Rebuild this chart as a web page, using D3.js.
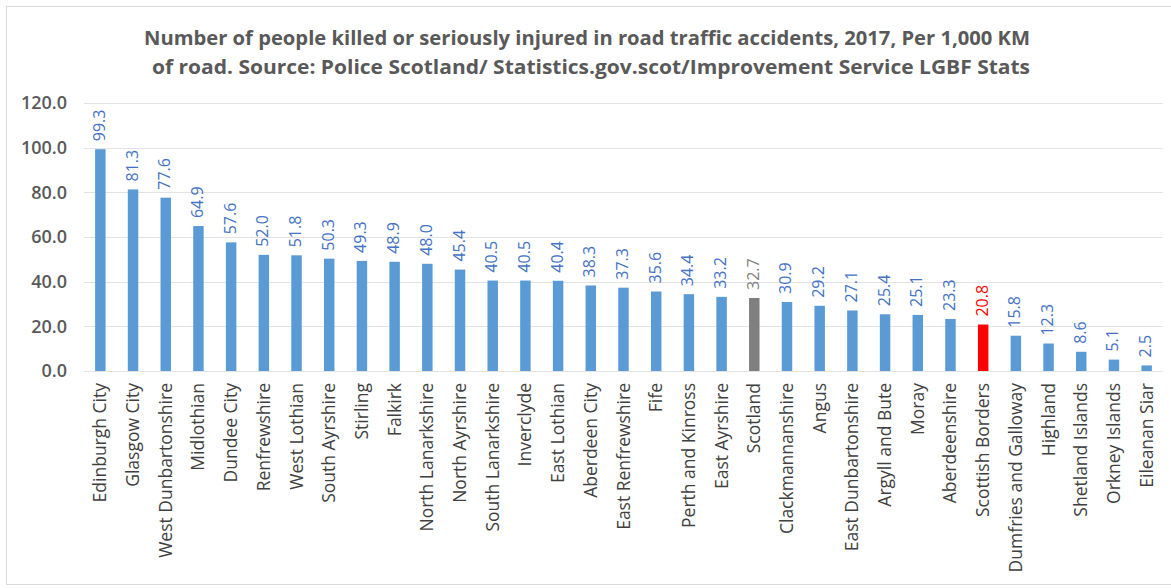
<!DOCTYPE html>
<html>
<head>
<meta charset="utf-8">
<script src="https://cdn.jsdelivr.net/npm/d3@7"></script>
<style>
  html, body { margin: 0; padding: 0; background: #ffffff; }
  svg { display: block; }
</style>
</head>
<body>
<svg id="chart" width="1171" height="588"></svg>
<script>
const categories = ["Edinburgh City","Glasgow City","West Dunbartonshire","Midlothian","Dundee City","Renfrewshire","West Lothian","South Ayrshire","Stirling","Falkirk","North Lanarkshire","North Ayrshire","South Lanarkshire","Inverclyde","East Lothian","Aberdeen City","East Renfrewshire","Fife","Perth and Kinross","East Ayrshire","Scotland","Clackmannanshire","Angus","East Dunbartonshire","Argyll and Bute","Moray","Aberdeenshire","Scottish Borders","Dumfries and Galloway","Highland","Shetland Islands","Orkney Islands","Eileanan Siar"];
const values = [99.3,81.3,77.6,64.9,57.6,52.0,51.8,50.3,49.3,48.9,48.0,45.4,40.5,40.5,40.4,38.3,37.3,35.6,34.4,33.2,32.7,30.9,29.2,27.1,25.4,25.1,23.3,20.8,15.8,12.3,8.6,5.1,2.5];
const yTicks = [0,20,40,60,80,100,120];
const titleLines = ["Number of people killed or seriously injured in road traffic accidents, 2017, Per 1,000 KM","of road.  Source: Police Scotland/ Statistics.gov.scot/Improvement Service LGBF Stats"];

(function () {
const svg = d3.select("#chart");
const W = 1171, H = 588;
const FONT = "'Open Sans', 'Liberation Sans', sans-serif";

// chart border
svg.append("rect").attr("x", 6.5).attr("y", 6.5).attr("width", W + 10).attr("height", 578)
  .attr("fill", "#fff").attr("stroke", "#d9d9d9").attr("stroke-width", 1);

const pl = 84, pr = 1163, pt = 103, pb = 371;
const x = d3.scaleBand().domain(categories).range([pl, pr]).paddingInner(0.68).paddingOuter(0.34);
const y = d3.scaleLinear().domain([0, 120]).range([pb, pt]);

// gridlines
svg.append("g").selectAll("line").data(yTicks).join("line")
  .attr("x1", pl).attr("x2", pr)
  .attr("y1", d => Math.round(y(d)) + 0.5).attr("y2", d => Math.round(y(d)) + 0.5)
  .attr("stroke", "#e3e3e3").attr("stroke-width", 1);

// y axis
const yAxis = svg.append("g").attr("transform", `translate(${pl},0)`)
  .call(d3.axisLeft(y).tickValues(yTicks).tickFormat(d3.format(".1f")).tickSize(0).tickPadding(17));
yAxis.select(".domain").remove();
yAxis.selectAll("text").attr("font-family", FONT).attr("font-size", 18).attr("font-weight", "600").attr("fill", "#595959");

function colorOf(c) { return c === "Scotland" ? "#7f7f7f" : (c === "Scottish Borders" ? "#ff0000" : "#5b9bd5"); }
function labelColorOf(c) { return c === "Scotland" ? "#7f7f7f" : (c === "Scottish Borders" ? "#ff0000" : "#4472c4"); }

// bars
svg.append("g").selectAll("rect").data(categories).join("rect")
  .attr("x", d => x(d)).attr("width", x.bandwidth())
  .attr("y", (d, i) => y(values[i])).attr("height", (d, i) => y(0) - y(values[i]))
  .attr("fill", d => colorOf(d));

// value labels
svg.append("g").selectAll("text").data(categories).join("text")
  .attr("transform", (d, i) => `translate(${x(d) + x.bandwidth() / 2 + 4.5},${y(values[i]) - 8}) rotate(-90)`)
  .attr("text-anchor", "start")
  .attr("font-family", FONT).attr("font-size", 16)
  .attr("fill", d => labelColorOf(d))
  .text((d, i) => values[i].toFixed(1));

// x axis labels
const xAxis = svg.append("g").attr("transform", `translate(0,${pb})`)
  .call(d3.axisBottom(x).tickSize(0).tickPadding(0));
xAxis.select(".domain").remove();
xAxis.selectAll("text")
  .attr("font-family", FONT).attr("font-size", 17.5).attr("fill", "#404040")
  .attr("text-anchor", "end").attr("dy", null).attr("y", null)
  .attr("transform", "translate(6,12) rotate(-90)");

// title
const titleYs = [38, 67];
const titleX = [[144, 1030], [152, 1030]];
svg.append("g").selectAll("text").data(titleLines).join("text")
  .attr("x", (d, i) => titleX[i][0]).attr("y", (d, i) => titleYs[i] + 7)
  .attr("textLength", (d, i) => titleX[i][1] - titleX[i][0])
  .attr("lengthAdjust", "spacingAndGlyphs")
  .attr("font-family", FONT).attr("font-size", 20).attr("font-weight", "bold").attr("fill", "#595959")
  .text(d => d);
})();
</script>
</body>
</html>
